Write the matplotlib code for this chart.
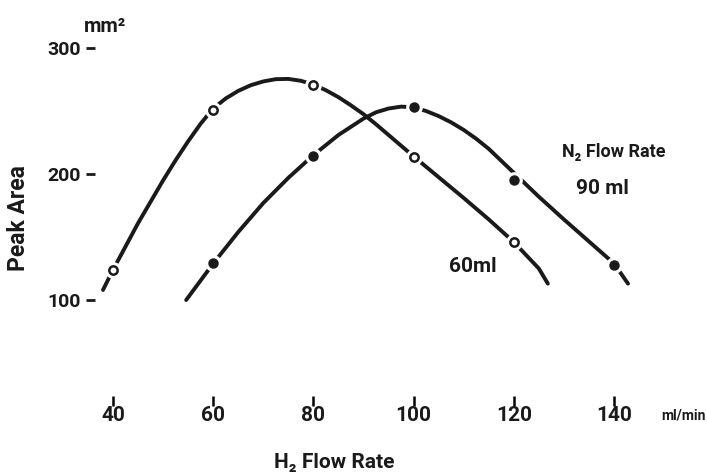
import matplotlib
matplotlib.use("Agg")
import matplotlib.pyplot as plt

h2_60 = [40, 60, 80, 100, 120]
area_60 = [124, 251, 271, 213.5, 146]
h2_90 = [60, 80, 100, 120, 140]
area_90 = [129, 214, 253, 195, 128]

# hand-drawn curves
curve60_x = [38, 40, 45, 50, 52.5, 55, 57.5, 60, 62.5, 65, 67.5, 70, 72.5, 75, 77.5, 80,
             82.5, 85, 87.5, 90, 92.5, 95, 100, 105, 110, 115, 120, 125, 126.8]
curve60_y = [108, 124, 161, 195, 211, 226, 240, 252, 260, 266, 270.5, 273.5, 275.3, 275.5,
             274, 271, 266.5, 261, 254.5, 247.5, 239.5, 231, 214, 197.5, 181, 164, 146, 125, 113]
curve90_x = [54.6, 60, 65, 70, 75, 80, 85, 90, 92.5, 95, 97.5, 100, 102.5, 105, 107.5,
             110, 112.5, 115, 120, 125, 130, 135, 140, 142.8]
curve90_y = [100, 129, 154, 177, 197, 215, 231, 244, 249, 252, 253.5, 253, 250, 246, 241,
             235, 228, 220, 201, 182, 164, 146.5, 129, 113]

xticks = [40, 60, 80, 100, 120, 140]
yticks = [100, 200, 300]

plt.rcParams['font.family'] = ['Roboto', 'DejaVu Sans']
ink = '#1a1a1a'
wt = 'bold'

fig = plt.figure(figsize=(7.07, 4.72), dpi=100)
ax = fig.add_axes([0.089, 0.1508, 0.8503, 0.8008])
ax.set_xlim(30, 150)
ax.set_ylim(20, 320)

for cx, cy in [(curve60_x, curve60_y), (curve90_x, curve90_y)]:
    ax.plot(cx, cy, color=ink, lw=2.8, solid_capstyle='round',
            solid_joinstyle='round', zorder=2)

# white halos give the little breaks in the line at each point
ax.plot(h2_60, area_60, 'o', ms=11, color='white', zorder=3)
ax.plot(h2_90, area_90, 'o', ms=11, color='white', zorder=3)
ax.plot(h2_60, area_60, 'o', ms=6, mfc='white', mec=ink, mew=1.8, zorder=4)
ax.plot(h2_90, area_90, 'o', ms=6.5, color=ink, zorder=4)

for s in ['top', 'right', 'left']:
    ax.spines[s].set_visible(False)
ax.spines['bottom'].set_linewidth(0)
ax.spines['left'].set_position(('data', 36.4))
ax.set_xticks(xticks)
ax.set_yticks(yticks)
ax.xaxis.set_ticks_position('bottom')
ax.tick_params(axis='x', which='major', direction='inout', length=7, width=1.8,
               pad=0, labelsize=15, color='black', labelcolor=ink)
ax.tick_params(axis='y', direction='out', length=6.5, width=2, pad=4,
               labelsize=14, colors=ink)
for lab in ax.get_xticklabels() + ax.get_yticklabels():
    lab.set_fontweight(wt)

fig.text(105 / 707, 1 - 27 / 472, 'mm²', ha='center', va='center',
         fontsize=14.5, fontweight=wt, color=ink)
fig.text(19 / 707, 1 - 218 / 472, 'Peak Area', rotation=90, ha='center',
         va='center', fontsize=16.5, fontweight=wt, color=ink)
fig.text(706 / 707, 1 - 415 / 472, 'ml/min', ha='right', va='center',
         fontsize=10, fontweight=wt, color=ink)
fig.text(334 / 707, 1 - 462 / 472, 'H₂ Flow Rate', ha='center', va='center',
         fontsize=15, fontweight=wt, color=ink)
fig.text(614 / 707, 1 - 152 / 472, 'N₂ Flow Rate', ha='center', va='center',
         fontsize=13, fontweight=wt, color=ink)
fig.text(602 / 707, 1 - 188 / 472, '90 ml', ha='center', va='center',
         fontsize=15, fontweight=wt, color=ink)
fig.text(473 / 707, 1 - 266 / 472, '60ml', ha='center', va='center',
         fontsize=15, fontweight=wt, color=ink)

fig.savefig('out.png', dpi=100, facecolor='white')
